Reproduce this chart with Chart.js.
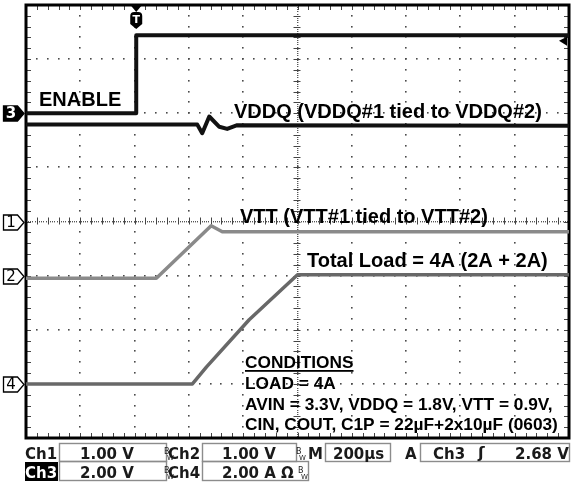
<!DOCTYPE html>
<html>
<head>
<meta charset="utf-8">
<script src="https://cdn.jsdelivr.net/npm/chart.js@4"></script>
<style>
  html, body { margin: 0; padding: 0; background: #fff; }
  canvas { display: block; }
</style>
</head>
<body>
<canvas id="scope" width="580" height="487"></canvas>
<script>
// Timebase: 200 µs/div over 10 divisions, trigger point 2 divisions from the left
const timeWindowUs = [-400, 1600];
const timebaseUsPerDiv = 200;

// Vertical settings per channel (units per division, marker offset in divisions)
const channelNames = ['Ch1', 'Ch2', 'Ch3', 'Ch4'];
const unitsPerDiv = [1, 1, 2, 2];
const offsetDiv = [0, -1, 2, -3];
const scaleLabels = ['1.00 V', '1.00 V', '2.00 V', '2.00 A'];

// Ch1: VDDQ (V)
const vddqTimeUs = [-400, 231, 249, 275, 312, 341, 378, 1600];
const vddqVolts  = [1.79, 1.79, 1.63, 1.94, 1.75, 1.71, 1.78, 1.77];

// Ch2: VTT (V)
const vttTimeUs = [-400, 80, 282, 323, 1600];
const vttVolts  = [-0.05, -0.05, 0.92, 0.81, 0.81];

// Ch3: ENABLE (V)
const enableTimeUs = [-400, 6, 6, 1600];
const enableVolts  = [0, 0, 2.88, 2.88];

// Ch4: total load current (A)
const loadTimeUs = [-400, 213, 265, 422, 600, 1600];
const loadAmps   = [0, 0, 0.63, 2.37, 4.03, 4.03];

// Trigger settings
const triggerTimeUs = 6;
const triggerSource = 'Ch3';
const triggerLevelV = 2.68;
const timebaseLabel = '200µs';

const pts = (xs, ys) => xs.map((x, i) => ({ x, y: ys[i] }));
const axisRange = ch => ({
  min: (-4 - offsetDiv[ch]) * unitsPerDiv[ch],
  max: (4 - offsetDiv[ch]) * unitsPerDiv[ch]
});

const BOLD = '"Liberation Sans", Arial, Helvetica, sans-serif';
const SCOPE = '"DejaVu Sans", Verdana, sans-serif';

// Dotted graticule, centre cross-hair ticks and the heavy frame
const graticule = {
  id: 'graticule',
  beforeDatasetsDraw(chart) {
    const { ctx, chartArea: a, scales } = chart;
    const xs = scales.x, ys = scales.y1;
    const L = a.left, R = a.right, T = a.top, B = a.bottom;
    const dx = (R - L) / 50, dy = (B - T) / 40;
    const xc = xs.getPixelForValue(timeWindowUs[0] + 5 * timebaseUsPerDiv);
    const yc = ys.getPixelForValue(0);
    ctx.save();
    ctx.fillStyle = '#4a4a4a';
    const dot = (x, y) => ctx.fillRect(Math.round(x) - 1, Math.round(y) - 1, 1.6, 1.6);
    for (let d = 1; d < 10; d++) {
      const x = xs.getPixelForValue(timeWindowUs[0] + d * timebaseUsPerDiv);
      if (d === 5) continue;
      for (let j = 1; j < 40; j++) dot(x, T + j * dy);
    }
    for (let d = -3; d <= 3; d++) {
      if (d === 0) continue;
      const y = ys.getPixelForValue(d);
      for (let i = 1; i < 50; i++) dot(L + i * dx, y);
    }
    // centre lines: fine dots plus minor ticks
    ctx.fillStyle = '#555';
    for (let y = T + 2; y < B; y += 2.2) ctx.fillRect(Math.round(xc) - 1, Math.round(y), 1.4, 1);
    for (let x = L + 2; x < R; x += 2.2) ctx.fillRect(Math.round(x), Math.round(yc) - 1, 1, 1.4);
    ctx.strokeStyle = '#444';
    ctx.lineWidth = 1;
    ctx.beginPath();
    for (let j = 1; j < 40; j++) {
      const y = Math.round(T + j * dy) + 0.5;
      ctx.moveTo(xc - 4, y); ctx.lineTo(xc + 3, y);
    }
    for (let i = 1; i < 50; i++) {
      const x = Math.round(L + i * dx) + 0.5;
      ctx.moveTo(x, yc - 4); ctx.lineTo(x, yc + 3);
    }
    // frame ticks
    for (let i = 1; i < 50; i++) {
      const x = Math.round(L + i * dx) + 0.5;
      ctx.moveTo(x, T); ctx.lineTo(x, T + 5);
      ctx.moveTo(x, B); ctx.lineTo(x, B - 5);
    }
    for (let j = 1; j < 40; j++) {
      const y = Math.round(T + j * dy) + 0.5;
      ctx.moveTo(L, y); ctx.lineTo(L + 5, y);
      ctx.moveTo(R, y); ctx.lineTo(R - 5, y);
    }
    ctx.stroke();
    ctx.strokeStyle = '#000';
    ctx.lineWidth = 3;
    ctx.strokeRect(L, T, R - L, B - T);
    ctx.restore();
  }
};

// Channel markers, trigger markers, trace annotations and the settings readout
const overlay = {
  id: 'overlay',
  afterDatasetsDraw(chart) {
    const { ctx, chartArea: a, scales } = chart;
    ctx.save();

    // channel ground markers
    const markerY = ch => scales['y' + (ch + 1)].getPixelForValue(0);
    const marker = (ch, filled) => {
      const y = Math.round(markerY(ch)) + 0.5;
      ctx.beginPath();
      ctx.moveTo(3.5, y - 7.5); ctx.lineTo(17.5, y - 7.5); ctx.lineTo(24, y);
      ctx.lineTo(17.5, y + 7.5); ctx.lineTo(3.5, y + 7.5); ctx.closePath();
      ctx.fillStyle = filled ? '#000' : '#fff';
      ctx.fill();
      ctx.lineWidth = 1.3; ctx.strokeStyle = '#000'; ctx.stroke();
      ctx.fillStyle = filled ? '#fff' : '#000';
      ctx.font = (filled ? 'bold ' : '') + '15px ' + SCOPE;
      ctx.textAlign = 'center'; ctx.textBaseline = 'middle';
      ctx.fillText(String(ch + 1), 11, y + 1);
    };
    marker(0, false); marker(1, false); marker(2, true); marker(3, false);

    // trigger position marker
    const tx = scales.x.getPixelForValue(triggerTimeUs);
    ctx.fillStyle = '#000';
    ctx.beginPath();
    ctx.moveTo(tx - 5, a.top + 1); ctx.lineTo(tx + 5, a.top + 1); ctx.lineTo(tx, a.top + 7);
    ctx.closePath(); ctx.fill();
    ctx.beginPath();
    ctx.moveTo(tx - 6, 16); ctx.quadraticCurveTo(tx - 6, 12, tx - 2, 12);
    ctx.lineTo(tx + 2, 12); ctx.quadraticCurveTo(tx + 6, 12, tx + 6, 16);
    ctx.lineTo(tx + 6, 24); ctx.lineTo(tx, 29); ctx.lineTo(tx - 6, 24); ctx.closePath();
    ctx.fill();
    ctx.fillStyle = '#fff';
    ctx.font = 'bold 11px ' + SCOPE;
    ctx.textAlign = 'center'; ctx.textBaseline = 'middle';
    ctx.fillText('T', tx, 20);

    // trigger level marker on the right edge
    const ly = scales.y3.getPixelForValue(triggerLevelV);
    ctx.fillStyle = '#000';
    ctx.beginPath();
    ctx.moveTo(a.right - 10, ly); ctx.lineTo(a.right - 2, ly - 4); ctx.lineTo(a.right - 2, ly + 5);
    ctx.closePath(); ctx.fill();

    // trace annotations
    ctx.fillStyle = '#000';
    ctx.textAlign = 'left'; ctx.textBaseline = 'alphabetic';
    ctx.font = 'bold 20px ' + BOLD;
    ctx.fillText('ENABLE', 39, 106);
    ctx.fillText('VDDQ (VDDQ#1 tied to VDDQ#2)', 234, 118);
    ctx.fillText('VTT (VTT#1 tied to VTT#2)', 240, 223);
    ctx.fillText('Total Load = 4A (2A + 2A)', 307, 267);

    ctx.font = 'bold 17.3px ' + BOLD;
    const cx = 245;
    ctx.fillText('CONDITIONS', cx, 368);
    const uw = ctx.measureText('CONDITIONS').width;
    ctx.fillRect(cx, 370, uw, 1.8);
    ctx.fillText('LOAD = 4A', cx, 389);
    ctx.fillText('AVIN = 3.3V, VDDQ = 1.8V, VTT = 0.9V,', cx, 410);
    ctx.fillText('CIN, COUT, C1P = 22µF+2x10µF (0603)', cx, 430);
    ctx.restore();
  },
  afterDraw(chart) {
    const { ctx } = chart;
    ctx.save();
    ctx.textBaseline = 'alphabetic';
    const box = (x0, y0, x1, y1) => {
      ctx.strokeStyle = '#8c8c8c'; ctx.lineWidth = 1.4;
      ctx.strokeRect(x0 + 0.5, y0 + 0.5, x1 - x0, y1 - y0);
    };
    const txt = (s, x, y, size, color, weight) => {
      ctx.fillStyle = color || '#1a1a1a';
      ctx.font = (weight || 'bold') + ' ' + (size || 15) + 'px ' + SCOPE;
      ctx.textAlign = 'left';
      ctx.fillText(s, x, y);
    };
    const bw = (x, y) => {
      txt('B', x, y - 5, 8, '#222', 'normal');
      txt('W', x + 3, y + 1, 7, '#222', 'normal');
    };
    const row1 = 459, row2 = 478;

    // row 1: Ch1, Ch2, timebase, trigger
    txt(channelNames[0], 25, row1);
    box(59, 443, 166, 461);
    txt(scaleLabels[0], 80, row1);
    bw(164, row1);
    txt(channelNames[1], 168, row1);
    box(202, 443, 296, 461);
    txt(scaleLabels[1], 222, row1);
    bw(296, row1);
    txt('M', 308, row1);
    box(325, 443, 390, 461);
    txt(timebaseLabel, 333, row1);
    txt('A', 405, row1);
    box(420, 443, 569, 461);
    txt(triggerSource, 433, row1);
    txt('ʃ', 478, row1 - 1, 16);
    txt(triggerLevelV.toFixed(2) + ' V', 515, row1);

    // row 2: Ch3 (highlighted), Ch4
    ctx.fillStyle = '#000';
    ctx.fillRect(25, 462, 33, 19);
    txt(channelNames[2], 25, row2, 15, '#fff');
    box(59, 461, 166, 480);
    txt(scaleLabels[2], 80, row2);
    bw(164, row2);
    txt(channelNames[3], 168, row2);
    box(202, 461, 308, 480);
    txt(scaleLabels[3] + ' Ω', 222, row2);
    bw(298, row2);
    ctx.restore();
  }
};

const yAxis = ch => Object.assign({ type: 'linear', display: false }, axisRange(ch));

new Chart(document.getElementById('scope'), {
  type: 'line',
  data: {
    datasets: [
      { label: 'VTT', data: pts(vttTimeUs, vttVolts), yAxisID: 'y2',
        borderColor: '#8a8a8a', borderWidth: 3.5 },
      { label: 'Total Load', data: pts(loadTimeUs, loadAmps), yAxisID: 'y4',
        borderColor: '#686868', borderWidth: 3.5 },
      { label: 'VDDQ', data: pts(vddqTimeUs, vddqVolts), yAxisID: 'y1',
        borderColor: '#111', borderWidth: 4 },
      { label: 'ENABLE', data: pts(enableTimeUs, enableVolts), yAxisID: 'y3',
        borderColor: '#111', borderWidth: 4 }
    ]
  },
  options: {
    responsive: false,
    animation: false,
    devicePixelRatio: 1,
    layout: { padding: { left: 26, right: 11, top: 5, bottom: 49 } },
    elements: { point: { radius: 0 }, line: { tension: 0, borderJoinStyle: 'round' } },
    plugins: { legend: { display: false }, tooltip: { enabled: false } },
    scales: {
      x: { type: 'linear', display: false, min: timeWindowUs[0], max: timeWindowUs[1] },
      y1: yAxis(0), y2: yAxis(1), y3: yAxis(2), y4: yAxis(3)
    }
  },
  plugins: [graticule, overlay]
});
</script>
</body>
</html>
